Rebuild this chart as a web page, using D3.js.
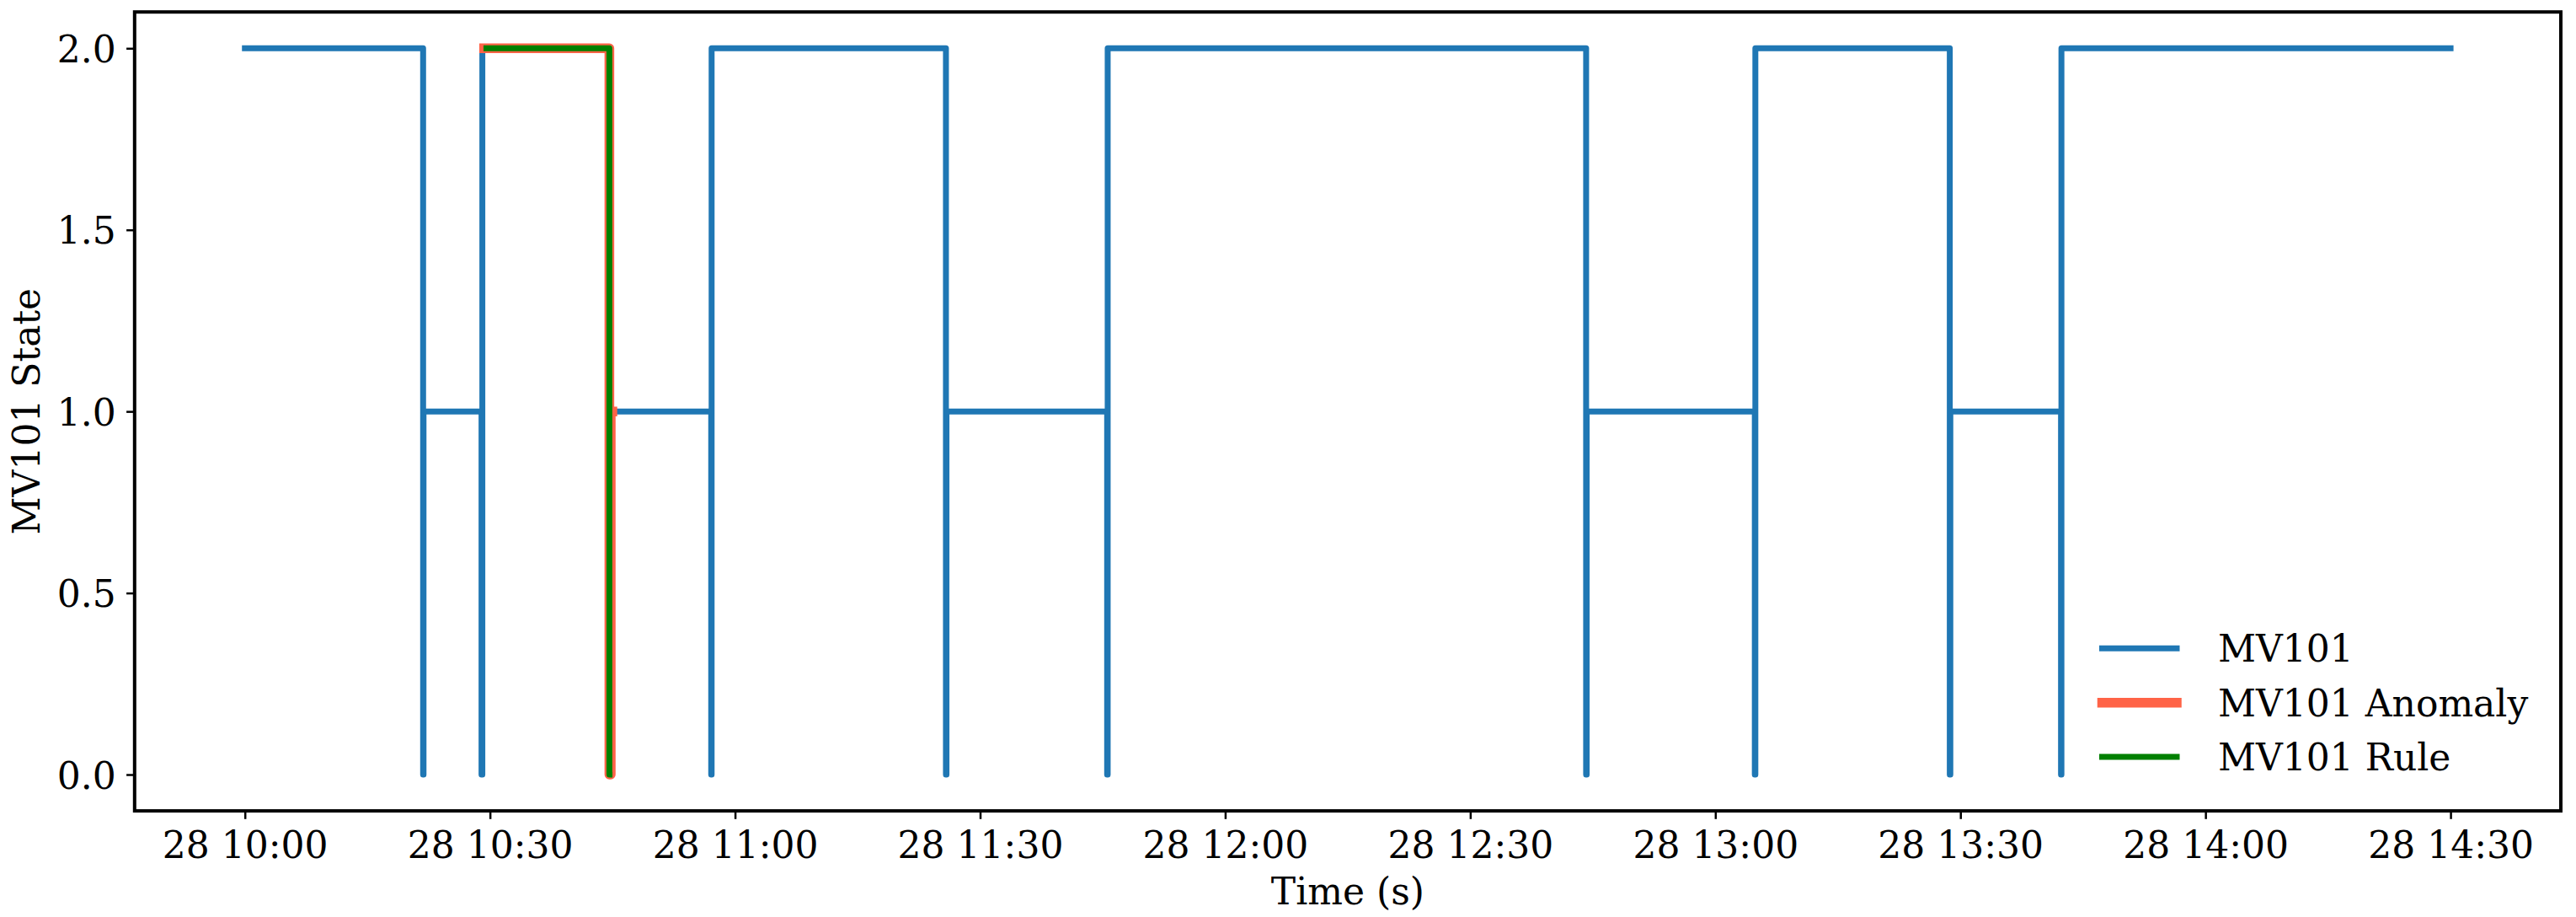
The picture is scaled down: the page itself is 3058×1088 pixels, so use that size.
<!DOCTYPE html>
<html>
<head>
<meta charset="utf-8">
<script src="https://cdn.jsdelivr.net/npm/d3@7"></script>
<style>
  html, body { margin: 0; padding: 0; background: #fff; }
  svg { display: block; }
  text { font-family: "DejaVu Serif", serif; fill: #000; }
</style>
</head>
<body>
<svg id="chart" width="3058" height="1088"></svg>
<script>
// ---------------- data ----------------
const day = "2015-12-28";
const xDomainTimes = ["09:46:30", "14:43:30"];
const yDomain = [-0.1, 2.1];
const yTickValues = [0.0, 0.5, 1.0, 1.5, 2.0];

// MV101 state change points (value holds until the next time)
const mv101Times = [
  "10:00:00", "10:21:49", "10:21:52", "10:28:58", "10:29:04",
  "10:44:37", "10:44:47", "10:57:05", "10:57:08",
  "11:25:49", "11:25:53", "11:45:33", "11:45:37",
  "12:44:11", "12:44:15", "13:04:50", "13:04:54",
  "13:28:42", "13:28:46", "13:42:19", "13:42:22", "14:30:00"
];
const mv101Values = [
  2, 0, 1, 0, 2,
  0, 1, 0, 2,
  0, 1, 0, 2,
  0, 1, 0, 2,
  0, 1, 0, 2, 2
];

const anomalyTimes = ["10:29:17", "10:44:37", "10:44:47", "10:44:59"];
const anomalyValues = [2, 0, 1, 1];

const ruleTimes = ["10:29:34", "10:44:37", "10:44:38"];
const ruleValues = [2, 0, 0];

const seriesNames = ["MV101", "MV101 Anomaly", "MV101 Rule"];
const seriesColors = ["#1f77b4", "#ff6347", "#008000"];
const seriesWidths = [7, 11.5, 7];

// ---------------- setup ----------------
const parse = d3.timeParse("%Y-%m-%d %H:%M:%S");
const toDate = t => parse(day + " " + t);

const plot = { left: 159.8, right: 3040, top: 14.2, bottom: 962.1 };

const x = d3.scaleTime()
  .domain(xDomainTimes.map(toDate))
  .range([plot.left, plot.right]);
const y = d3.scaleLinear()
  .domain(yDomain)
  .range([plot.bottom, plot.top]);

const svg = d3.select("#chart");

const line = d3.line()
  .x(d => x(d.t))
  .y(d => y(d.v))
  .curve(d3.curveStepAfter);

function build(times, values) {
  return times.map((t, i) => ({ t: toDate(t), v: values[i] }));
}
const series = [
  build(mv101Times, mv101Values),
  build(anomalyTimes, anomalyValues),
  build(ruleTimes, ruleValues)
];

// lines
const gLines = svg.append("g");
series.forEach((data, i) => {
  gLines.append("path")
    .datum(data)
    .attr("d", line)
    .attr("fill", "none")
    .attr("stroke", seriesColors[i])
    .attr("stroke-width", seriesWidths[i])
    .attr("stroke-linecap", "square")
    .attr("stroke-linejoin", "round");
});

// axes
const fontSize = 44;
const xAxis = d3.axisBottom(x)
  .ticks(d3.timeMinute.every(30))
  .tickFormat(d3.timeFormat("%d %H:%M"))
  .tickSize(9.7)
  .tickSizeOuter(0)
  .tickPadding(0);
const gx = svg.append("g")
  .attr("transform", `translate(0,${plot.bottom})`)
  .call(xAxis);
gx.select(".domain").remove();
gx.selectAll(".tick line").attr("stroke", "#000").attr("stroke-width", 2.5);
gx.selectAll(".tick text")
  .attr("font-family", "DejaVu Serif")
  .attr("font-size", fontSize)
  .attr("fill", "#000")
  .attr("dy", null)
  .attr("y", 55.7);

const yAxis = d3.axisLeft(y)
  .tickValues(yTickValues)
  .tickFormat(d3.format(".1f"))
  .tickSize(9.7)
  .tickSizeOuter(0)
  .tickPadding(0);
const gy = svg.append("g")
  .attr("transform", `translate(${plot.left},0)`)
  .call(yAxis);
gy.select(".domain").remove();
gy.selectAll(".tick line").attr("stroke", "#000").attr("stroke-width", 2.5);
gy.selectAll(".tick text")
  .attr("font-family", "DejaVu Serif")
  .attr("font-size", fontSize)
  .attr("fill", "#000")
  .attr("dy", null)
  .attr("x", -22)
  .attr("y", 16);

// frame
svg.append("rect")
  .attr("x", plot.left)
  .attr("y", plot.top)
  .attr("width", plot.right - plot.left)
  .attr("height", plot.bottom - plot.top)
  .attr("fill", "none")
  .attr("stroke", "#000")
  .attr("stroke-width", 4);

// axis labels
svg.append("text")
  .attr("x", (plot.left + plot.right) / 2)
  .attr("y", 1073)
  .attr("text-anchor", "middle")
  .attr("font-size", fontSize)
  .text("Time (s)");

svg.append("text")
  .attr("transform", `translate(46.7,${(plot.top + plot.bottom) / 2}) rotate(-90)`)
  .attr("text-anchor", "middle")
  .attr("font-size", fontSize)
  .text("MV101 State");

// legend
const legendRows = [769.3, 833.7, 898];
const legend = svg.append("g");
seriesNames.forEach((name, i) => {
  legend.append("line")
    .attr("x1", 2495.5).attr("x2", 2584)
    .attr("y1", legendRows[i]).attr("y2", legendRows[i])
    .attr("stroke", seriesColors[i])
    .attr("stroke-width", seriesWidths[i])
    .attr("stroke-linecap", "square");
  legend.append("text")
    .attr("x", 2633)
    .attr("y", legendRows[i] + 16)
    .attr("font-size", fontSize)
    .text(name);
});
</script>
</body>
</html>
